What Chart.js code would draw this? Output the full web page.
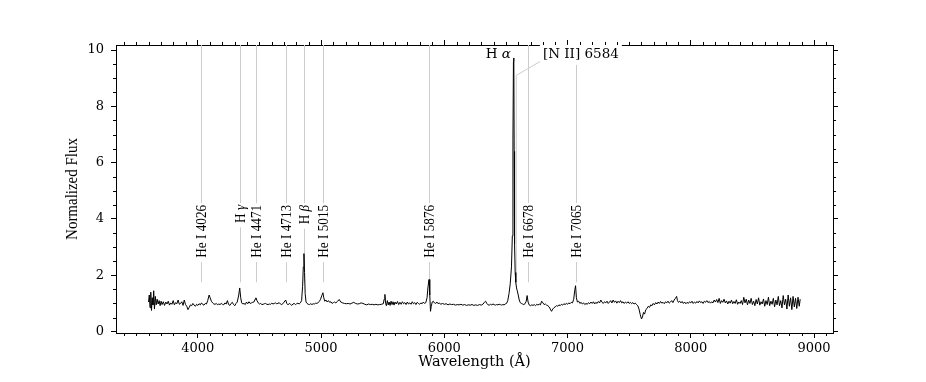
<!DOCTYPE html>
<html>
<head>
<meta charset="utf-8">
<script src="https://cdn.jsdelivr.net/npm/chart.js@4.4.1/dist/chart.umd.min.js"></script>
<style>
  html, body { margin: 0; padding: 0; background: #fff; }
  canvas { display: block; }
</style>
</head>
<body>
<canvas id="spec" width="926" height="382"></canvas>
<script>
// spectrum (wavelength in Å, normalized flux)
const wavelength = [
  3600, 3606, 3612, 3618, 3624, 3630, 3636, 3642, 3648, 3655,
  3662, 3670, 3678, 3686, 3694, 3702, 3710, 3720, 3730, 3740,
  3750, 3760, 3770, 3780, 3790, 3800, 3810, 3820, 3830, 3840,
  3850, 3860, 3870, 3880, 3890, 3900, 3910, 3920, 3930, 3940,
  3950, 3960, 3970, 3980, 3990, 4000, 4010, 4020, 4030, 4040,
  4050, 4060, 4070, 4080, 4092, 4100, 4110, 4120, 4130, 4140,
  4150, 4160, 4170, 4180, 4190, 4200, 4210, 4220, 4230, 4240,
  4250, 4260, 4270, 4280, 4290, 4300, 4310, 4320, 4332, 4340,
  4348, 4356, 4365, 4375, 4385, 4395, 4405, 4415, 4425, 4435,
  4445, 4455, 4465, 4471, 4480, 4490, 4500, 4510, 4520, 4530,
  4540, 4550, 4560, 4570, 4580, 4590, 4600, 4610, 4620, 4630,
  4640, 4650, 4660, 4670, 4680, 4690, 4700, 4713, 4722, 4732,
  4742, 4752, 4762, 4772, 4782, 4792, 4802, 4812, 4822, 4832,
  4842, 4850, 4856, 4861, 4866, 4871, 4878, 4886, 4896, 4906,
  4916, 4926, 4936, 4946, 4956, 4966, 4976, 4986, 4996, 5006,
  5015, 5022, 5030, 5040, 5050, 5060, 5070, 5080, 5090, 5100,
  5110, 5120, 5135, 5147, 5160, 5175, 5190, 5205, 5220, 5235,
  5250, 5265, 5280, 5295, 5310, 5325, 5340, 5355, 5370, 5385,
  5400, 5415, 5430, 5445, 5460, 5475, 5490, 5505, 5512, 5518,
  5524, 5530, 5538, 5545, 5552, 5560, 5568, 5576, 5584, 5592,
  5600, 5610, 5620, 5630, 5640, 5650, 5660, 5670, 5680, 5690,
  5700, 5710, 5720, 5730, 5740, 5750, 5760, 5770, 5780, 5790,
  5800, 5810, 5820, 5830, 5840, 5850, 5860, 5868, 5876, 5882,
  5888, 5894, 5902, 5910, 5920, 5930, 5940, 5950, 5960, 5970,
  5985, 6000, 6015, 6030, 6045, 6060, 6075, 6090, 6105, 6120,
  6135, 6150, 6165, 6180, 6195, 6210, 6225, 6240, 6255, 6270,
  6285, 6300, 6315, 6325, 6335, 6345, 6355, 6365, 6375, 6385,
  6395, 6405, 6415, 6425, 6435, 6445, 6455, 6465, 6475, 6485,
  6495, 6505, 6515, 6525, 6535, 6545, 6552, 6557, 6561, 6564,
  6567, 6570, 6575, 6580, 6586, 6592, 6600, 6608, 6616, 6625,
  6635, 6645, 6655, 6665, 6672, 6680, 6690, 6700, 6710, 6720,
  6730, 6740, 6750, 6760, 6770, 6780, 6790, 6800, 6810, 6820,
  6830, 6840, 6850, 6860, 6870, 6880, 6890, 6900, 6910, 6920,
  6930, 6940, 6950, 6960, 6970, 6980, 6990, 7000, 7010, 7020,
  7030, 7040, 7050, 7058, 7065, 7072, 7080, 7090, 7100, 7110,
  7120, 7130, 7140, 7150, 7160, 7170, 7180, 7190, 7200, 7210,
  7220, 7230, 7240, 7250, 7260, 7270, 7280, 7290, 7300, 7310,
  7320, 7330, 7340, 7350, 7360, 7370, 7380, 7390, 7400, 7410,
  7420, 7430, 7440, 7450, 7460, 7470, 7480, 7490, 7500, 7510,
  7520, 7530, 7540, 7550, 7560, 7570, 7580, 7590, 7600, 7608,
  7616, 7625, 7635, 7645, 7655, 7665, 7675, 7685, 7695, 7705,
  7715, 7725, 7735, 7745, 7755, 7765, 7775, 7785, 7795, 7805,
  7815, 7825, 7835, 7845, 7855, 7865, 7875, 7885, 7892, 7900,
  7910, 7920, 7930, 7940, 7950, 7960, 7970, 7980, 7990, 8000,
  8010, 8020, 8030, 8040, 8050, 8060, 8070, 8080, 8090, 8100,
  8110, 8120, 8130, 8140, 8150, 8160, 8170, 8180, 8190, 8200,
  8210, 8220, 8230, 8240, 8250, 8260, 8270, 8280, 8290, 8300,
  8310, 8320, 8330, 8340, 8350, 8360, 8370, 8380, 8390, 8400,
  8410, 8420, 8430, 8440, 8450, 8460, 8470, 8480, 8490, 8500,
  8510, 8520, 8530, 8540, 8550, 8560, 8570, 8580, 8590, 8600,
  8610, 8620, 8630, 8640, 8650, 8660, 8670, 8680, 8690, 8700,
  8710, 8720, 8730, 8740, 8750, 8760, 8770, 8780, 8790, 8800,
  8810, 8820, 8830, 8840, 8850, 8860, 8870, 8880, 8888
];
const flux = [
  1.05, 1.30, 0.85, 1.40, 0.75, 1.20, 0.95, 1.45, 0.80, 1.25,
  0.95, 1.15, 0.98, 1.10, 0.92, 1.08, 0.96, 1.06, 0.93, 1.05,
  0.98, 1.08, 0.94, 1.02, 0.97, 1.10, 0.95, 1.03, 0.99, 1.12,
  0.97, 1.00, 1.06, 0.93, 1.12, 0.96, 0.90, 0.78, 0.86, 0.95,
  0.92, 1.00, 0.94, 0.90, 0.97, 0.93, 0.99, 0.95, 1.02, 0.96,
  0.94, 1.00, 0.98, 1.10, 1.30, 1.20, 1.08, 1.02, 0.98, 0.97,
  1.00, 0.95, 0.98, 0.96, 1.00, 0.97, 0.95, 1.02, 0.98, 1.10,
  0.96, 0.93, 1.00, 1.04, 0.96, 0.92, 1.00, 1.05, 1.30, 1.55,
  1.20, 1.02, 0.98, 1.00, 0.96, 1.05, 0.99, 1.06, 1.00, 1.02,
  1.04, 1.05, 1.15, 1.20, 1.10, 1.02, 0.98, 1.00, 0.96, 0.97,
  0.99, 1.00, 0.97, 0.96, 0.98, 0.97, 1.01, 0.98, 1.00, 1.02,
  0.99, 1.00, 1.03, 0.98, 0.96, 0.99, 1.05, 1.12, 1.00, 0.95,
  1.00, 0.97, 0.93, 0.98, 1.00, 0.96, 0.99, 1.01, 0.98, 1.02,
  1.10, 1.60, 2.30, 2.77, 2.10, 1.35, 1.05, 1.00, 0.97, 0.96,
  0.99, 0.96, 0.99, 0.98, 1.01, 1.00, 1.03, 1.07, 1.15, 1.28,
  1.38, 1.20, 1.08, 1.12, 1.05, 1.10, 1.04, 1.06, 1.00, 1.03,
  1.05, 1.02, 1.08, 1.14, 1.05, 1.02, 1.00, 0.99, 1.00, 0.98,
  1.01, 1.04, 1.00, 0.98, 0.99, 1.02, 1.00, 0.97, 0.95, 0.98,
  0.96, 0.97, 0.95, 0.97, 0.95, 0.96, 0.97, 0.99, 1.15, 1.32,
  1.00, 0.92, 1.10, 0.95, 1.05, 0.93, 1.08, 0.96, 1.06, 0.94,
  1.05, 0.98, 1.07, 0.96, 1.04, 0.97, 1.06, 0.99, 1.03, 0.96,
  1.05, 0.98, 1.02, 0.97, 1.06, 0.99, 1.03, 0.96, 1.04, 1.00,
  0.97, 1.02, 0.99, 1.05, 1.00, 1.03, 1.20, 1.60, 1.85, 1.30,
  0.72, 0.90, 1.05, 1.08, 1.02, 1.00, 1.05, 0.99, 1.02, 0.97,
  1.00, 0.97, 0.99, 0.95, 0.98, 0.96, 0.97, 0.94, 0.96, 0.95,
  0.97, 0.94, 0.96, 0.93, 0.95, 0.94, 0.96, 0.93, 0.95, 0.93,
  0.96, 0.94, 0.98, 1.04, 1.08, 1.00, 0.95, 0.94, 0.97, 0.95,
  0.98, 0.96, 0.94, 0.96, 0.95, 0.97, 0.96, 0.94, 0.96, 0.95,
  0.98, 1.00, 1.10, 1.35, 1.70, 2.30, 3.40, 6.80, 9.60, 9.72,
  6.40, 3.10, 2.10, 1.75, 1.55, 1.45, 1.30, 1.12, 1.03, 1.00,
  0.98, 0.96, 0.99, 1.08, 1.28, 1.05, 0.94, 0.92, 0.95, 0.93,
  0.96, 0.92, 0.97, 0.94, 0.98, 0.95, 1.08, 1.02, 0.96, 0.98,
  0.94, 0.92, 0.88, 0.80, 0.72, 0.80, 0.85, 0.88, 0.92, 0.90,
  0.95, 0.92, 0.97, 0.94, 0.99, 0.96, 1.00, 0.97, 1.02, 0.99,
  1.04, 1.02, 1.15, 1.45, 1.63, 1.20, 1.05, 1.08, 1.00, 1.04,
  0.98, 1.02, 0.96, 1.00, 0.97, 1.03, 0.99, 1.05, 1.00, 1.06,
  0.98, 1.04, 1.00, 1.07, 1.02, 1.12, 1.04, 1.00, 1.06, 1.02,
  1.08, 1.00, 1.05, 1.10, 1.02, 1.12, 1.04, 1.09, 1.01, 1.08,
  1.03, 1.10, 1.02, 1.06, 1.00, 1.05, 1.01, 1.06, 1.00, 1.04,
  0.99, 1.03, 0.98, 1.01, 0.96, 0.92, 0.80, 0.60, 0.45, 0.52,
  0.68, 0.62, 0.78, 0.82, 0.90, 0.86, 0.95, 0.92, 1.00, 0.95,
  1.03, 0.98, 1.05, 1.00, 1.07, 1.01, 1.04, 0.99, 1.06, 1.02,
  1.08, 1.01, 1.05, 1.10, 1.03, 1.12, 1.18, 1.25, 1.10, 1.04,
  1.08, 1.02, 1.07, 1.00, 1.05, 0.99, 1.04, 1.00, 1.06, 1.02,
  1.08, 1.00, 1.05, 1.01, 1.07, 1.02, 1.09, 1.03, 1.06, 1.00,
  1.08, 1.04, 1.10, 1.03, 1.07, 1.01, 1.06, 1.02, 1.12, 1.05,
  1.14, 1.03, 1.18, 1.00, 1.10, 1.04, 1.15, 1.02, 1.09, 0.98,
  1.08, 1.01, 1.12, 0.99, 1.07, 1.00, 1.13, 0.97, 1.05, 1.00,
  1.10, 0.96, 1.22, 1.02, 1.15, 0.95, 1.12, 1.00, 1.18, 0.96,
  1.08, 0.92, 1.14, 0.98, 1.20, 0.94, 1.06, 0.98, 1.16, 0.90,
  1.10, 0.96, 1.22, 0.92, 1.08, 0.97, 1.18, 0.88, 1.12, 0.95,
  1.25, 0.92, 1.10, 0.84, 1.28, 0.95, 1.15, 0.80, 1.30, 0.90,
  1.20, 0.78, 1.25, 0.88, 1.18, 0.82, 1.22, 0.90, 1.15
];

// identified lines (rotated labels)
const lineWaves = [4026, 4340, 4471, 4713, 4861, 5015, 5876, 6678, 7065];
const lineNames = ['He I 4026', 'H γ', 'He I 4471', 'He I 4713', 'H β', 'He I 5015', 'He I 5876', 'He I 6678', 'He I 7065'];
const lineBase = 1.75;   // marker lines start here
const labelTop = 4.5;    // top end of the rotated labels

// labels near the top
const haWave = 6563, haText = 'H α', haAt = [6540, 9.83];
const n2Wave = 6584, n2Text = '[N II] 6584', n2At = [6800, 9.83], n2Tip = 9.1, n2Elbow = [6780, 9.6];

const xTicks = [4000, 5000, 6000, 7000, 8000, 9000];
const yTicks = [0, 2, 4, 6, 8, 10];
const xRange = [3336, 9154];
const yRange = [-0.05, 10.18];
const yTitle = 'Normalized Flux';

const greek = /[α-ω]/;
function parts(text) {
  const i = text.search(greek);
  if (i < 0) return [[text, false]];
  return [[text.slice(0, i), false], [text.slice(i), true]];
}
function drawParts(ctx, text, x, y, size, family) {
  const ps = parts(text);
  let w = 0;
  const ws = ps.map(([t, it]) => {
    ctx.font = (it ? 'italic ' : '') + size + 'px ' + family;
    const m = ctx.measureText(t).width;
    w += m;
    return m;
  });
  return {w, draw(startX) {
    let cx = startX;
    ps.forEach(([t, it], k) => {
      ctx.font = (it ? 'italic ' : '') + size + 'px ' + family;
      ctx.fillText(t, cx, y);
      cx += ws[k];
    });
  }};
}

const narrow = 0.88;  // the rotated texts use a condensed serif

const decor = {
  id: 'decor',
  beforeDatasetsDraw(chart) {
    const {ctx, chartArea, scales: {x, y}} = chart;
    ctx.save();
    ctx.strokeStyle = '#cccccc';
    ctx.lineWidth = 1;
    lineWaves.forEach(w => {
      const px = Math.round(x.getPixelForValue(w)) + 0.5;
      ctx.beginPath();
      ctx.moveTo(px, y.getPixelForValue(lineBase));
      ctx.lineTo(px, chartArea.top);
      ctx.stroke();
    });
    // [N II] marker with leader
    const nx = x.getPixelForValue(n2Wave);
    ctx.beginPath();
    ctx.moveTo(nx, y.getPixelForValue(lineBase));
    ctx.lineTo(nx, y.getPixelForValue(n2Tip));
    ctx.lineTo(x.getPixelForValue(n2Elbow[0]), y.getPixelForValue(n2Elbow[1]));
    ctx.stroke();
    ctx.restore();
  },
  afterDatasetsDraw(chart) {
    const {ctx, chartArea, scales: {x, y}} = chart;
    ctx.save();
    ctx.fillStyle = '#000';
    ctx.textBaseline = 'middle';
    ctx.textAlign = 'left';
    lineWaves.forEach((w, i) => {
      ctx.save();
      ctx.translate(Math.round(x.getPixelForValue(w)) + 0.5, y.getPixelForValue(labelTop));
      ctx.rotate(-Math.PI / 2);
      ctx.scale(narrow, 1);
      const p = drawParts(ctx, lineNames[i], 0, 0.5, 15, '"Liberation Serif", serif');
      ctx.fillStyle = '#fff';
      ctx.fillRect(-p.w - 5, -7, p.w + 7, 14);
      ctx.fillStyle = '#000';
      p.draw(-p.w);
      ctx.restore();
    });
    // y axis title
    ctx.save();
    ctx.translate(73, (chartArea.top + chartArea.bottom) / 2);
    ctx.rotate(-Math.PI / 2);
    ctx.scale(narrow, 1);
    ctx.textAlign = 'center';
    ctx.font = '17px "Liberation Serif", serif';
    ctx.fillText(yTitle, 0, 0);
    ctx.restore();
    // top labels
    const hy = y.getPixelForValue(haAt[1]);
    const ha = drawParts(ctx, haText, 0, hy, 13.5, '"DejaVu Serif", serif');
    ha.draw(x.getPixelForValue(haAt[0]) - ha.w);
    const n2 = drawParts(ctx, n2Text, 0, y.getPixelForValue(n2At[1]), 13.5, '"DejaVu Serif", serif');
    const n2x = x.getPixelForValue(n2At[0]);
    ctx.fillStyle = '#fff';
    ctx.fillRect(n2x - 3, y.getPixelForValue(n2At[1]) - 10, n2.w + 6, 20);
    ctx.fillStyle = '#000';
    n2.draw(n2x);
    ctx.restore();
  },
  afterDraw(chart) {
    // minor ticks on all four sides
    const {ctx, chartArea: a, scales: {x, y}} = chart;
    ctx.save();
    ctx.strokeStyle = '#000';
    ctx.lineWidth = 1;
    ctx.beginPath();
    for (let w = 3400; w <= 9100; w += 100) {
      if (w % 1000 === 0) continue;
      const px = Math.round(x.getPixelForValue(w)) + 0.5;
      ctx.moveTo(px, a.bottom); ctx.lineTo(px, a.bottom + 3);
      ctx.moveTo(px, a.top); ctx.lineTo(px, a.top - 3);
    }
    for (let v = 0.5; v <= 10; v += 0.5) {
      if (v % 2 === 0) continue;
      const py = Math.round(y.getPixelForValue(v)) + 0.5;
      ctx.moveTo(a.left, py); ctx.lineTo(a.left - 3, py);
      ctx.moveTo(a.right, py); ctx.lineTo(a.right + 3, py);
    }
    ctx.stroke();
    ctx.restore();
  }
};

const tickFont = {family: '"DejaVu Serif", serif', size: 13};
const axisBase = {
  type: 'linear',
  border: {display: true, color: '#000', width: 1},
  grid: {drawOnChartArea: false, drawTicks: true, tickLength: 5, tickColor: '#000', tickWidth: 1}
};

new Chart(document.getElementById('spec'), {
  type: 'line',
  data: {
    datasets: [{
      data: wavelength.map((w, i) => ({x: w, y: flux[i]})),
      borderColor: '#000',
      borderWidth: 1,
      pointRadius: 0,
      tension: 0,
      xAxisID: 'x',
      yAxisID: 'y'
    }]
  },
  options: {
    responsive: false,
    animation: false,
    devicePixelRatio: 1,
    events: [],
    layout: {padding: 0},
    plugins: {legend: {display: false}, tooltip: {enabled: false}},
    scales: {
      x: {
        ...axisBase, position: 'bottom', min: xRange[0], max: xRange[1],
        afterBuildTicks: s => { s.ticks = xTicks.map(v => ({value: v})); },
        afterFit: s => { s.height = 49; },
        ticks: {font: tickFont, color: '#000', padding: 3, maxRotation: 0, callback: v => String(v)},
        title: {display: true, text: 'Wavelength (Å)', color: '#000',
          font: {family: '"DejaVu Serif", serif', size: 14.5}, padding: {top: 0, bottom: 11}}
      },
      x2: {
        ...axisBase, position: 'top', min: xRange[0], max: xRange[1],
        afterBuildTicks: s => { s.ticks = xTicks.map(v => ({value: v})); },
        afterFit: s => { s.height = 45; },
        ticks: {display: false}
      },
      y: {
        ...axisBase, position: 'left', min: yRange[0], max: yRange[1],
        afterBuildTicks: s => { s.ticks = yTicks.map(v => ({value: v})); },
        afterFit: s => { s.width = 116; },
        ticks: {font: tickFont, color: '#000', padding: 7, callback: v => String(v)}
      },
      y2: {
        ...axisBase, position: 'right', min: yRange[0], max: yRange[1],
        afterBuildTicks: s => { s.ticks = yTicks.map(v => ({value: v})); },
        afterFit: s => { s.width = 93; },
        ticks: {display: false}
      }
    }
  },
  plugins: [decor]
});
</script>
</body>
</html>
